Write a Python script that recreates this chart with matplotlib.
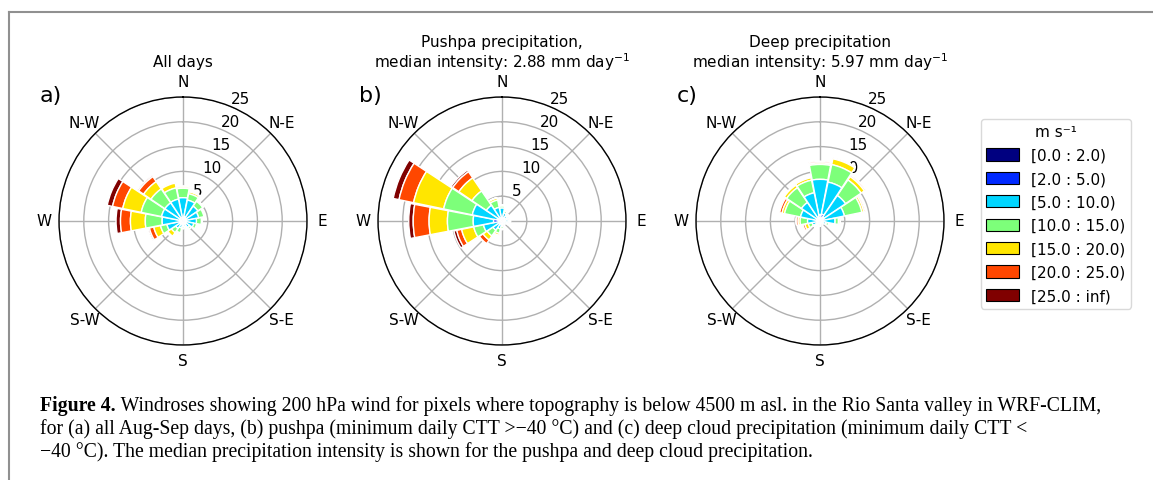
import numpy as np
import matplotlib
matplotlib.use("Agg")
import matplotlib.pyplot as plt
from matplotlib.patches import Patch
from matplotlib.lines import Line2D

# ---------------- data ----------------
directions = ["N", "NNE", "NE", "ENE", "E", "ESE", "SE", "SSE",
              "S", "SSW", "SW", "WSW", "W", "WNW", "NW", "NNW"]
speed_bins = ["[0.0 : 2.0)", "[2.0 : 5.0)", "[5.0 : 10.0)", "[10.0 : 15.0)",
              "[15.0 : 20.0)", "[20.0 : 25.0)", "[25.0 : inf)"]
compass_labels = ["N", "N-E", "E", "S-E", "S", "S-W", "W", "N-W"]
radial_ticks = [5, 10, 15, 20, 25]

# frequency (%) per speed bin (rows) and direction (columns)
freq_all_days = np.array([
    [0.1, 0.2, 0.1, 0.1, 0.1, 0.1, 0.1, 0.1, 0.1, 0.1, 0.1, 0.1, 0.1, 0.1, 0.1, 0.1],
    [0.4, 0.6, 0.4, 0.3, 0.2, 0.2, 0.2, 0.2, 0.2, 0.2, 0.3, 0.3, 0.4, 0.4, 0.4, 0.4],
    [4.2, 3.5, 3.1, 2.8, 2.4, 1.9, 1.3, 0.9, 0.8, 1.1, 1.4, 2.9, 3.7, 3.9, 3.9, 4.0],
    [1.9, 1.3, 1.2, 1.1, 1.0, 0.6, 0.4, 0.3, 0.4, 1.0, 1.0, 1.3, 3.4, 4.2, 3.4, 2.3],
    [0.3, 0.4, 0.2, 0.1, 0.1, 0.1, 0.0, 0.0, 0.0, 0.2, 0.9, 1.4, 3.0, 3.8, 1.8, 1.0],
    [0.1, 0.1, 0.0, 0.0, 0.0, 0.0, 0.0, 0.0, 0.0, 0.1, 0.2, 0.9, 2.0, 2.1, 1.2, 0.2],
    [0.0, 0.0, 0.0, 0.0, 0.0, 0.0, 0.0, 0.0, 0.0, 0.0, 0.1, 0.3, 0.9, 1.1, 0.3, 0.1],
])

freq_pushpa = np.array([
    [0.1, 0.1, 0.1, 0.1, 0.1, 0.1, 0.1, 0.1, 0.1, 0.1, 0.1, 0.1, 0.3, 0.3, 0.2, 0.1],
    [0.2, 0.2, 0.2, 0.2, 0.2, 0.2, 0.1, 0.1, 0.2, 0.2, 0.2, 0.4, 1.4, 0.7, 0.4, 0.3],
    [2.3, 1.3, 1.0, 0.8, 1.0, 0.8, 0.4, 0.3, 0.8, 1.3, 1.9, 3.3, 4.1, 5.1, 3.2, 2.4],
    [0.4, 0.4, 0.3, 0.3, 0.3, 0.3, 0.2, 0.2, 0.5, 0.9, 1.4, 2.0, 5.2, 5.9, 3.5, 1.5],
    [0.2, 0.1, 0.1, 0.1, 0.1, 0.1, 0.0, 0.0, 0.1, 0.4, 1.0, 2.5, 3.7, 6.2, 3.2, 0.4],
    [0.0, 0.0, 0.0, 0.0, 0.0, 0.0, 0.0, 0.0, 0.0, 0.1, 0.9, 1.0, 3.2, 3.0, 1.5, 0.1],
    [0.0, 0.0, 0.0, 0.0, 0.0, 0.0, 0.0, 0.0, 0.0, 0.0, 0.1, 0.6, 0.9, 1.2, 0.4, 0.0],
])

freq_deep = np.array([
    [0.3, 0.3, 0.2, 0.2, 0.1, 0.1, 0.1, 0.1, 0.1, 0.1, 0.1, 0.1, 0.1, 0.1, 0.1, 0.2],
    [0.9, 1.1, 0.8, 0.5, 0.3, 0.2, 0.1, 0.1, 0.2, 0.2, 0.2, 0.2, 0.3, 0.4, 0.5, 0.6],
    [7.2, 6.6, 5.2, 4.3, 2.6, 1.0, 0.4, 0.2, 0.3, 0.4, 0.7, 1.3, 2.1, 3.5, 3.9, 5.0],
    [3.0, 3.6, 3.8, 3.6, 0.7, 0.5, 0.2, 0.1, 0.4, 0.3, 0.3, 0.8, 1.5, 3.3, 3.6, 2.6],
    [0.3, 1.2, 0.8, 0.4, 0.3, 0.1, 0.0, 0.0, 0.0, 0.1, 0.2, 0.7, 0.4, 0.5, 0.6, 0.5],
    [0.3, 0.2, 0.3, 0.3, 0.1, 0.0, 0.0, 0.0, 0.0, 0.0, 0.1, 0.4, 0.4, 0.5, 0.1, 0.1],
    [0.0, 0.0, 0.0, 0.0, 0.0, 0.0, 0.0, 0.0, 0.0, 0.0, 0.0, 0.1, 0.0, 0.0, 0.0, 0.0],
])

panel_titles = ["All days",
                "Pushpa precipitation,\nmedian intensity: 2.88 mm day$^{\\mathregular{-1}}$",
                "Deep precipitation\nmedian intensity: 5.97 mm day$^{\\mathregular{-1}}$"]
panel_letters = ["a)", "b)", "c)"]
panel_freqs = [freq_all_days, freq_pushpa, freq_deep]
legend_title = "m s\u207b\u00b9"

caption_bold = "Figure 4."
caption_lines = [
    " Windroses showing 200 hPa wind for pixels where topography is below 4500 m asl. in the Rio Santa valley in WRF-CLIM,",
    "for (a) all Aug-Sep days, (b) pushpa (minimum daily CTT >\u221240 \u00b0C) and (c) deep cloud precipitation (minimum daily CTT <",
    "\u221240 \u00b0C). The median precipitation intensity is shown for the pushpa and deep cloud precipitation.",
]

# ---------------- figure ----------------
W, H = 1153, 481
fig = plt.figure(figsize=(W / 100, H / 100), dpi=100)
colors = plt.cm.jet(np.linspace(0, 1, len(speed_bins)))

centers_x = [183, 502, 820]
cy = 222
R = 124
theta = np.deg2rad(np.arange(len(directions)) * 22.5)
width = np.deg2rad(22.5) * 0.96

for k, (cx, freq) in enumerate(zip(centers_x, panel_freqs)):
    ax = fig.add_axes([(cx - R) / W, (H - cy - R) / H, 2 * R / W, 2 * R / H],
                      projection="polar")
    ax.set_theta_zero_location("N")
    ax.set_theta_direction(-1)
    ax.set_axisbelow(True)
    bottom = np.zeros(len(directions))
    for i in range(len(speed_bins)):
        ax.bar(theta, freq[i], width=width, bottom=bottom, color=colors[i],
               edgecolor="white", linewidth=1.0, zorder=2 + len(speed_bins) - i)
        bottom = bottom + freq[i]
    ax.set_ylim(0, 25)
    ax.set_yticks(radial_ticks)
    ax.set_yticklabels([str(t) for t in radial_ticks], fontsize=11)
    ax.set_rlabel_position(22.5)
    ax.set_thetagrids(np.arange(0, 360, 45), compass_labels, fontsize=11)
    ax.tick_params(axis="x", pad=0.5)
    ax.grid(True, color="#b0b0b0", linewidth=1.0)
    ax.spines["polar"].set_linewidth(1.0)
    fig.text(cx / W, 1 - 54 / H if k else 1 - 62 / H, panel_titles[k],
             ha="center", va="center", fontsize=11, linespacing=1.1)
    fig.text((cx - 143) / W, 1 - 96 / H, panel_letters[k], ha="left",
             va="center", fontsize=16)

handles = [Patch(facecolor=colors[i], edgecolor="black", linewidth=0.8)
           for i in range(len(speed_bins))]
leg = fig.legend(handles, speed_bins, title=legend_title,
                 loc="upper left", bbox_to_anchor=(981 / W, 1 - 120 / H),
                 fontsize=11, title_fontsize=11, frameon=True,
                 handlelength=2.15, handleheight=0.85, labelspacing=0.55,
                 borderaxespad=0, borderpad=0.35)
leg.get_frame().set_edgecolor("#d0d0d0")

# caption
renderer = fig.canvas.get_renderer()
cap_size = 14.2
x0 = 40 / W
bold = fig.text(x0, 1 - 406 / H, caption_bold, fontsize=cap_size, fontweight="bold",
                family="Liberation Serif", va="center", ha="left")
bb = bold.get_window_extent(renderer)
fig.text(bb.x1 / W, 1 - 406 / H, caption_lines[0], fontsize=cap_size,
         family="Liberation Serif", va="center", ha="left")
fig.text(x0, 1 - 429 / H, caption_lines[1], fontsize=cap_size,
         family="Liberation Serif", va="center", ha="left")
fig.text(x0, 1 - 452 / H, caption_lines[2], fontsize=cap_size,
         family="Liberation Serif", va="center", ha="left")

# frame lines
fig.add_artist(Line2D([8.5 / W, 1], [1 - 12.5 / H, 1 - 12.5 / H],
                      transform=fig.transFigure, color="#909090", linewidth=1.5))
fig.add_artist(Line2D([8.5 / W, 8.5 / W], [0, 1 - 12.5 / H],
                      transform=fig.transFigure, color="#909090", linewidth=1.5))

fig.savefig("out.png", dpi=100)
